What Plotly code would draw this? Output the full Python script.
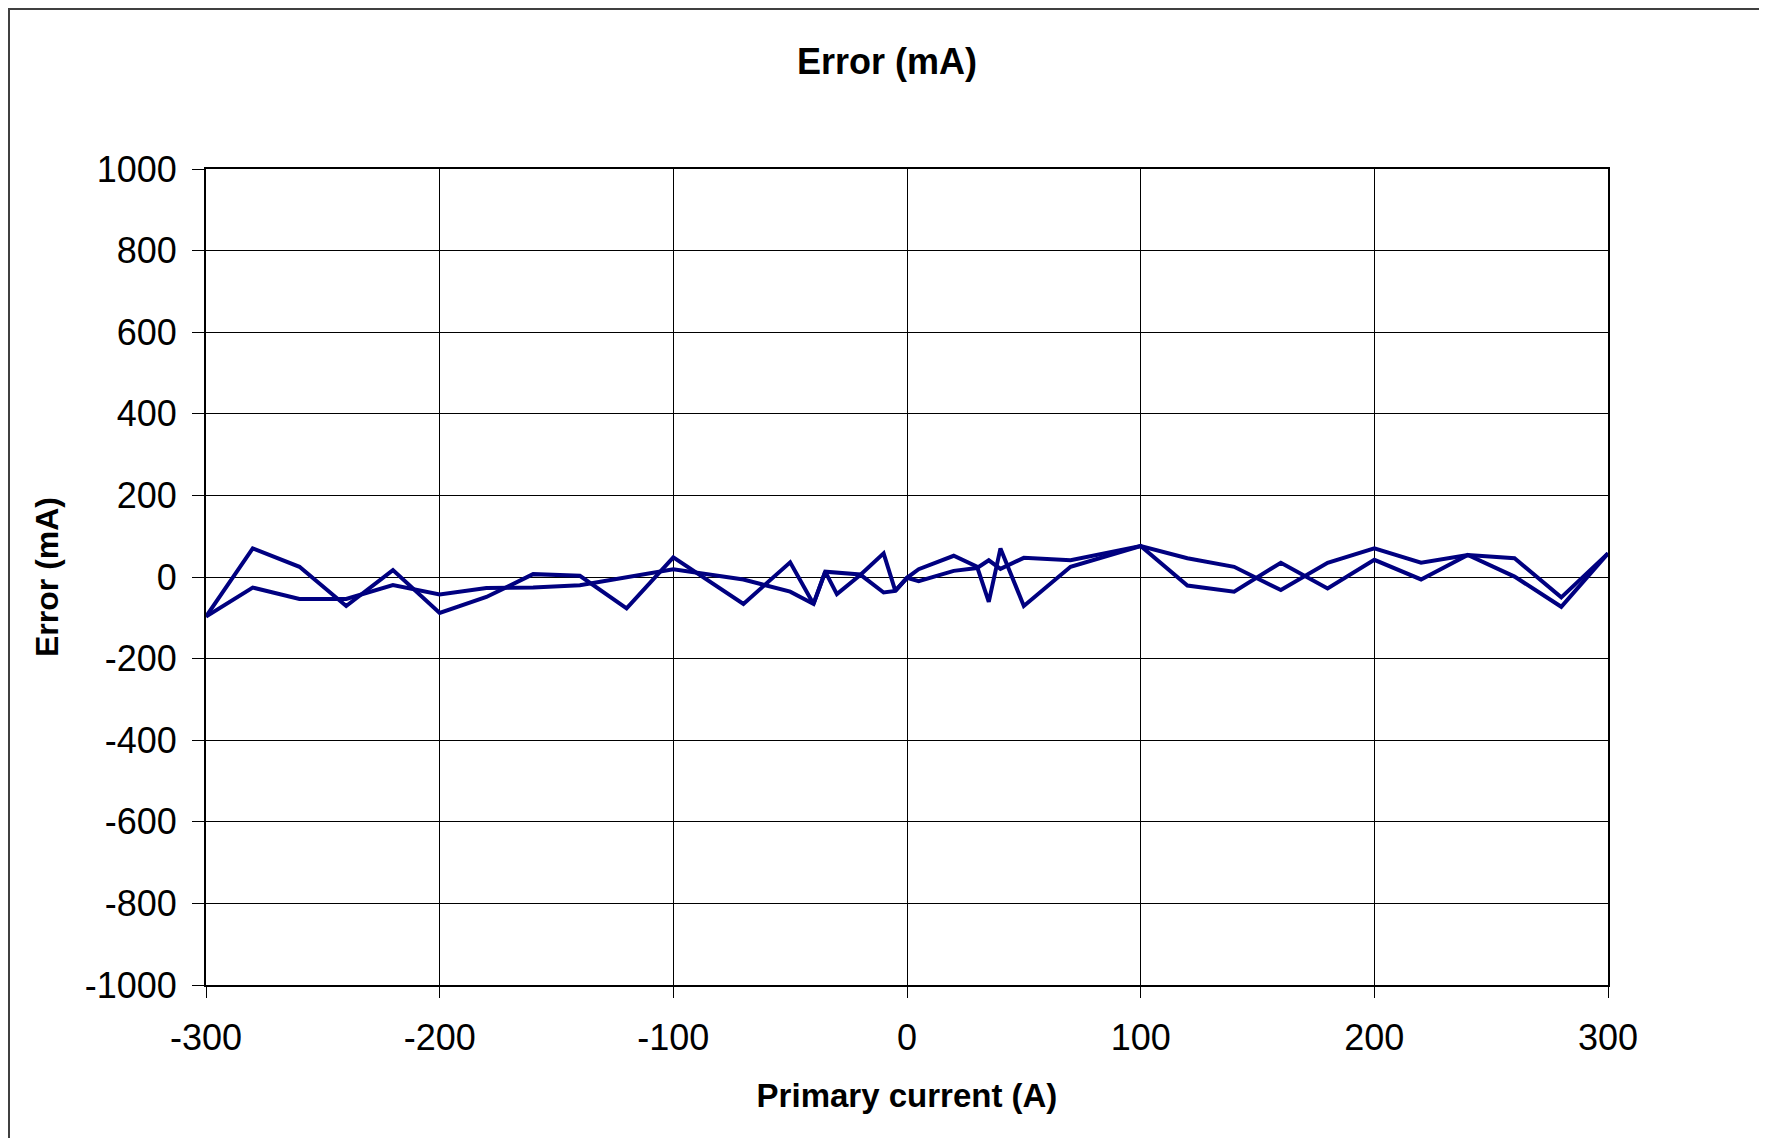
import plotly.graph_objects as go

# Primary current (A) and error (mA) for the two sweeps
current_a = [-300, -280, -260, -240, -220, -200, -180, -160, -140, -120, -100, -70, -50, -40, -35, -30,
             -20, -10, -5, 0, 5, 20, 30, 35, 40, 50, 70, 100, 120, 140, 160, 180, 200, 220, 240, 260, 280, 300]
error_a = [-97, 70, 25, -71, 17, -88, -49, 7, 3, -77, 48, -66, 36, -66, 13, -42,
           5, 58, -34, -2, 19, 52, 25, -61, 70, -71, 25, 76, -21, -36, 35, -28, 42, -6, 54, 1, -73, 58]

current_b = [-300, -280, -260, -240, -220, -200, -180, -160, -140, -120, -100, -70, -60, -50, -40, -35,
             -20, -10, -5, 0, 5, 20, 30, 35, 40, 50, 70, 100, 120, 140, 160, 180, 200, 220, 240, 260, 280, 300]
error_b = [-97, -26, -54, -54, -20, -43, -27, -26, -20, -1, 19, -6, -20, -36, -66, 13,
           6, -38, -34, -2, -10, 15, 22, 41, 20, 47, 41, 76, 46, 25, -32, 35, 70, 35, 54, 46, -50, 58]

x_ticks = [-300, -200, -100, 0, 100, 200, 300]
x_tick_text = ["-300", "-200", "-100", "0", "100", "200", "300"]
y_ticks = [-1000, -800, -600, -400, -200, 0, 200, 400, 600, 800, 1000]
y_tick_text = ["-1000", "-800", "-600", "-400", "-200", "0", "200", "400", "600", "800", "1000"]

FONT = "Liberation Sans, Arial, sans-serif"
NAVY = "#000080"

# page body has an 8px margin; margins below compensate for it
L, T, PW, PH = 198, 161, 1402, 816

fig = go.Figure()
fig.add_trace(go.Scatter(x=current_a, y=error_a, mode="lines",
                         line=dict(color=NAVY, width=4), showlegend=False))
fig.add_trace(go.Scatter(x=current_b, y=error_b, mode="lines",
                         line=dict(color=NAVY, width=4), showlegend=False))

fig.update_layout(
    width=1767, height=1138,
    margin=dict(l=L, r=1767 - L - PW, t=T, b=1138 - T - PH),
    paper_bgcolor="white", plot_bgcolor="white",
    font=dict(family=FONT, color="black"),
    title=dict(text="<b>Error (mA)</b>", x=(879 - L) / PW, xref="paper", xanchor="center",
               y=1 - 53 / 1138, yanchor="middle", font=dict(size=36, family=FONT)),
)

fig.update_xaxes(
    range=[-300, 300], tickvals=x_ticks, ticktext=x_tick_text,
    showgrid=True, gridcolor="black", gridwidth=1,
    showline=True, linecolor="black", linewidth=2, mirror=True,
    ticks="outside", ticklen=11, tickcolor="black", tickwidth=1,
    tickfont=dict(size=36, family=FONT), zeroline=False, ticklabelstandoff=9,
    title=dict(text="<b>Primary current (A)</b>", font=dict(size=33, family=FONT), standoff=27),
)
fig.update_yaxes(
    range=[-1000, 1000], tickvals=y_ticks, ticktext=y_tick_text,
    showgrid=True, gridcolor="black", gridwidth=1,
    showline=True, linecolor="black", linewidth=2, mirror=True,
    ticks="outside", ticklen=12, tickcolor="black", tickwidth=1,
    tickfont=dict(size=36, family=FONT), zeroline=False, ticklabelstandoff=8,
    title=dict(text="<b>Error (mA)</b>", font=dict(size=32, family=FONT), standoff=17),
)

# outer chart frame
fig.add_shape(type="rect", xref="paper", yref="paper",
              x0=(1 - L) / PW, x1=(1800 - L) / PW,
              y0=-(1180 - T - PH) / PH, y1=1 + (T - 0) / PH - 1 / PH,
              line=dict(color="#404040", width=2), fillcolor="rgba(0,0,0,0)", layer="below")

fig.write_html("out.html")
